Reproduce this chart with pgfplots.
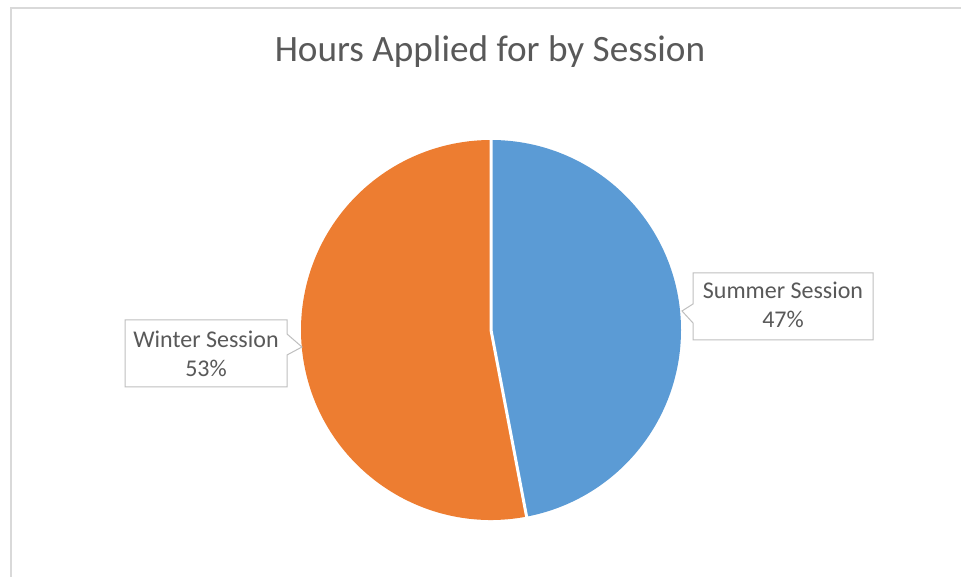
\documentclass[border=0pt]{standalone}
\usepackage{pgfplots}
\pgfplotsset{compat=1.18}
\usepackage{fontspec}
\setmainfont{Carlito}
\definecolor{summerc}{HTML}{5B9BD5}
\definecolor{winterc}{HTML}{ED7D31}
\definecolor{txt}{HTML}{595959}
\definecolor{boxc}{HTML}{BFBFBF}
\definecolor{framec}{HTML}{D9D9D9}
% data: percent of hours applied for
\def\summerval{47}
\def\winterval{53}
\pgfmathsetmacro{\endA}{90-3.6*\summerval}
\pgfmathsetmacro{\endB}{\endA-3.6*\winterval}
\pgfmathsetmacro{\xA}{cos(\endA)}
\pgfmathsetmacro{\yA}{sin(\endA)}
\begin{document}
\begin{tikzpicture}[x=1pt,y=1pt]
\useasboundingbox (0,0) rectangle (961,577);
\fill[white] (0,0) rectangle (961,577);
% chart frame (top and left edges visible)
\draw[framec, line width=1.5pt] (11,0) -- (11,569) -- (961,569);
% title
\node[anchor=base, text=txt, font=\fontsize{37.2}{44}\selectfont] at (490,515) {Hours Applied for by Session};
\begin{axis}[
  at={(491pt,247pt)}, anchor=center,
  scale only axis, width=380pt, height=380pt,
  xmin=-1, xmax=1, ymin=-1, ymax=1,
  hide axis, clip=false]
  \fill[summerc] (axis cs:0,0) -- (axis cs:0,1) arc[start angle=90, end angle=\endA, radius=190pt] -- cycle;
  \fill[winterc] (axis cs:0,0) -- (axis cs:\xA,\yA) arc[start angle=\endA, end angle=\endB, radius=190pt] -- cycle;
  \draw[white, line width=3pt] (axis cs:0,1.01) -- (axis cs:0,0) -- (axis cs:1.01*\xA,1.01*\yA);
\end{axis}
% callout: Summer
\draw[boxc, line width=1pt, fill=white] (693,577-304) -- (693,577-273) -- (873,577-273) -- (873,577-340) -- (693,577-340) -- (693,577-323) -- (682,577-311) -- cycle;
\node[anchor=base, text=txt, font=\fontsize{24}{28}\selectfont] at (783,577-299) {Summer Session};
\node[anchor=base, text=txt, font=\fontsize{24}{28}\selectfont] at (783,577-328) {47\%};
% callout: Winter
\draw[boxc, line width=1pt, fill=white] (287,577-334) -- (287,577-320) -- (125,577-320) -- (125,577-387) -- (287,577-387) -- (287,577-355) -- (302,577-347) -- cycle;
\node[anchor=base, text=txt, font=\fontsize{24}{28}\selectfont] at (206,577-348) {Winter Session};
\node[anchor=base, text=txt, font=\fontsize{24}{28}\selectfont] at (206,577-377) {53\%};
\end{tikzpicture}
\end{document}
